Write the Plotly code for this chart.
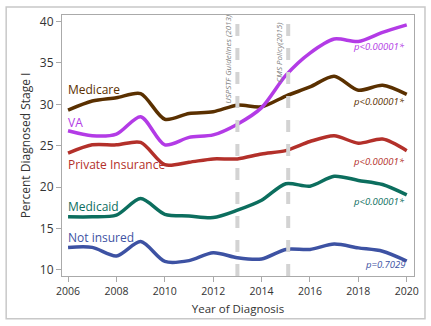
import plotly.graph_objects as go

years = list(range(2006, 2021))
medicare = [29.3, 30.4, 30.8, 31.3, 28.2, 28.9, 29.1, 29.9, 29.7, 31.0, 32.1, 33.4, 31.7, 32.3, 31.2]
va = [26.8, 26.2, 26.4, 28.5, 25.1, 26.0, 26.3, 27.6, 29.6, 33.5, 36.2, 37.9, 37.6, 38.7, 39.6]
private = [24.1, 25.1, 25.1, 25.4, 22.7, 23.0, 23.4, 23.4, 24.0, 24.4, 25.5, 26.2, 25.3, 25.8, 24.4]
medicaid = [16.4, 16.4, 16.6, 18.6, 16.7, 16.5, 16.3, 17.2, 18.4, 20.4, 20.1, 21.3, 20.8, 20.3, 19.05]
not_insured = [12.7, 12.7, 11.65, 13.4, 11.0, 11.1, 12.05, 11.44, 11.3, 12.45, 12.45, 13.1, 12.64, 12.24, 11.05]

series_names = ["Medicare", "VA", "Private Insurance", "Medicaid", "Not insured"]
series_vals = [medicare, va, private, medicaid, not_insured]
colors = ["#5a3000", "#b33be6", "#b3302a", "#0c6e5e", "#3d52a3"]
label_y = [31.75, 27.85, 22.75, 17.65, 13.95]
p_labels = ["p<0.00001*", "p<0.00001*", "p<0.00001*", "p<0.00001*", "p=0.7029"]
p_y = [30.35, 37.0, 23.1, 18.3, 10.6]

policy_x = [2013, 2015.1]
policy_labels = ["USPSTF Guidelines (2013)", "CMS Policy(2015)"]
policy_label_y = [0.83, 0.857]

fig = go.Figure()
for name, vals, c in zip(series_names, series_vals, colors):
    fig.add_trace(go.Scatter(x=years, y=vals, mode="lines", name=name,
                             line=dict(color=c, width=3.5, shape="spline", smoothing=0.8)))

annotations = []
for name, c, ly in zip(series_names, colors, label_y):
    annotations.append(dict(x=2006, y=ly, text=name, showarrow=False, xanchor="left",
                            yanchor="middle", xshift=-2,
                            font=dict(size=12, color=c, family="Open Sans")))
for p, c, py in zip(p_labels, colors, p_y):
    annotations.append(dict(x=2020, y=py, text="<i>" + p + "</i>", showarrow=False, xanchor="right",
                            yanchor="middle", font=dict(size=9.5, color=c, family="Open Sans")))
shapes = []
for px, pl, py in zip(policy_x, policy_labels, policy_label_y):
    shapes.append(dict(type="line", x0=px, x1=px, xref="x", yref="paper", y0=0, y1=1,
                       line=dict(color="#d3d3d3", width=4, dash="dash")))
    annotations.append(dict(x=px, y=py, xref="x", yref="paper", text="<i>" + pl + "</i>",
                            textangle=-90, showarrow=False, xanchor="center", yanchor="middle",
                            xshift=-10, font=dict(size=8, color="#808080", family="Open Sans")))
shapes.append(dict(type="rect", xref="paper", yref="paper", x0=-0.1586, x1=1.0312,
                   y0=-0.1635, y1=1.0304, line=dict(color="#c8c8c8", width=1.5)))

fig.update_layout(
    width=431, height=326,
    margin=dict(l=62, r=16, t=15, b=48),
    paper_bgcolor="white", plot_bgcolor="white",
    showlegend=False,
    font=dict(family="Open Sans", color="#333333"),
    annotations=annotations, shapes=shapes,
)
fig.update_xaxes(range=[2005.75, 2020.3], tickvals=list(range(2006, 2021, 2)),
                 showgrid=False, zeroline=False, showline=True, linecolor="#aaaaaa", linewidth=1,
                 mirror=True, ticks="outside", ticklen=5, tickcolor="#aaaaaa",
                 tickfont=dict(size=10.5, color="#333333"),
                 title=dict(text="Year of Diagnosis", font=dict(size=11.5, color="#333333"), standoff=8))
fig.update_yaxes(range=[9.24, 40.8], tickvals=[10, 15, 20, 25, 30, 35, 40],
                 showgrid=False, zeroline=False, showline=True, linecolor="#aaaaaa", linewidth=1,
                 mirror=True, ticks="outside", ticklen=5, tickcolor="#aaaaaa",
                 tickfont=dict(size=12, color="#333333"),
                 title=dict(text="Percent Diagnosed Stage I", font=dict(size=12, color="#333333"), standoff=6))

fig.write_html("out.html")
